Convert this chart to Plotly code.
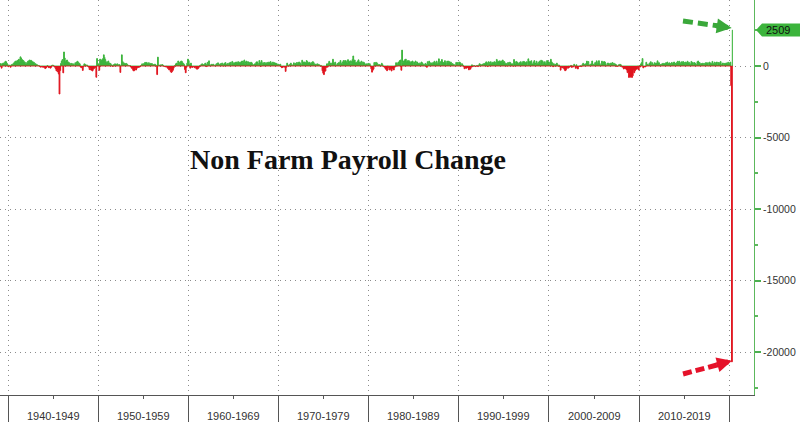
import numpy as np
import plotly.graph_objects as go

# Monthly change in non-farm payrolls (thousands), read/estimated from the chart
nfp_1939 = [30, 150, 170, -150, 140, 210, 160, 240, 330, 300, 190, 120]

nfp_1940s = [
    -50, 40, 60, -90, 80, 110, 130, 190, 250, 310, 350, 330,
    380, 420, 470, 300, 640, 560, 450, 420, 380, 300, 260, 200,
    200, 250, 330, 350, 420, 380, 400, 360, 300, 280, 250, 200,
    150, 120, 90, 60, 30, 20, -40, -80, -60, -30, -90, -70,
    -100, -180, -140, -60, 30, -80, -120, -60, -150, -90, 40, 60,
    40, -30, -90, -200, -350, -300, -420, -560, -1959, -320, 180, 350,
    450, -480, 980, 560, 310, 380, 420, 300, 260, 220, 180, 120,
    180, 120, 160, 100, 60, 230, 150, 280, 330, 260, 200, 150,
    -60, -120, -90, -310, -50, 150, 120, 90, 40, 60, -30, -80,
    -250, -200, -280, -300, -350, -230, -180, -60, -100, -790, 520, 100,
]

nfp_1950s = [
    150, -300, 480, 380, 420, 450, 520, 780, 600, 450, 300, 250,
    280, 350, 220, 120, 180, 80, 60, -30, 90, 120, 150, 60,
    120, 150, 60, 90, 100, -450, 40, 780, 320, 230, 200, 180,
    150, 180, 120, 60, 40, 20, 30, -60, -150, -180, -300, -350,
    -300, -200, -280, -150, -120, -100, -80, -60, 10, 60, 150, 100,
    150, 200, 250, 220, 250, 200, 180, 230, 160, 180, 150, 170,
    120, 100, 90, 130, 80, 40, -600, 620, 60, 30, 80, 40,
    80, 100, 40, -20, -40, -60, -20, -80, -150, -200, -280, -250,
    -400, -450, -380, -300, -150, 10, 50, 150, 200, 120, 350, 100,
    250, 300, 350, 320, 220, 180, 100, -250, -470, -100, 200, 480,
]

nfp_1960s = [
    380, 120, -150, 200, -80, -100, -40, -60, -120, -60, -180, -220,
    -200, -150, -60, 40, 60, 120, 150, 100, 80, 120, 200, 120,
    -40, 250, 180, 360, 80, 40, 110, 120, 90, 120, 40, 30,
    80, 160, 130, 220, 60, 100, 160, 120, 190, 200, -10, 140,
    200, 240, 120, 100, 180, 110, 220, 190, 260, 60, 320, 180,
    220, 210, 240, 280, 250, 270, 300, 240, 260, 260, 290, 350,
    270, 310, 420, 200, 290, 340, 200, 300, 190, 250, 230, 260,
    220, 120, 90, 30, 150, 160, 280, 290, 60, 180, 380, 240,
    -20, 380, 120, 230, 180, 240, 200, 220, 200, 250, 260, 260,
    240, 310, 210, 170, 270, 250, 230, 210, 140, 180, 90, 130,
]

nfp_1970s = [
    90, 80, 120, -60, -120, -100, -30, -80, -50, -380, -90, 200,
    80, -20, 50, 140, 200, 90, 50, 80, 220, 50, 180, 200,
    240, 200, 250, 280, 230, 150, 60, 400, 220, 280, 280, 250,
    230, 380, 310, 220, 230, 260, 150, 200, 240, 300, 280, 160,
    120, 120, 60, 150, 130, 100, 80, 20, 40, -20, -330, -500,
    -600, -380, -350, -100, 150, -80, 200, 330, 120, 200, 120, 220,
    470, 220, 190, 270, 30, 80, 180, 120, 250, 50, 380, 200,
    180, 280, 380, 340, 370, 380, 300, 250, 440, 280, 320, 360,
    180, 330, 450, 700, 380, 420, 220, 250, 260, 340, 430, 280,
    240, 270, 340, 0, 270, 260, 210, 80, 120, 150, 120, 180,
]

nfp_1980s = [
    110, 160, 20, -200, -430, -300, -220, 240, 100, 250, 250, 180,
    90, 100, 100, 70, 40, 190, 100, -30, -60, -100, -210, -250,
    -330, -10, -130, -280, -50, -250, -350, -160, -220, -280, -110, 20,
    230, -10, 170, 280, 280, 380, 420, -300, 1110, 270, 350, 360,
    450, 480, 280, 370, 310, 380, 310, 250, 300, 300, 350, 130,
    270, 120, 350, 200, 280, 140, 190, 200, 200, 200, 280, 210,
    120, 120, 60, 180, 120, -90, 300, 160, 340, 180, 220, 210,
    180, 230, 240, 330, 240, 170, 340, 180, 230, 500, 240, 300,
    100, 450, 280, 250, 220, 370, 240, 130, 340, 270, 340, 290,
    260, 270, 180, 170, 120, 110, 40, 40, 250, 120, 240, 100,
]

nfp_1990s = [
    280, 250, 200, 40, 150, 60, -30, -190, -50, -160, -150, -80,
    -140, -270, -160, -220, -90, 80, -50, 10, 30, -10, -40, 20,
    40, -40, 50, 160, 120, 60, 80, 130, 50, 170, 140, 220,
    290, 230, -40, 300, 260, 180, 300, 150, 230, 270, 250, 300,
    260, 200, 460, 340, 330, 300, 360, 300, 350, 210, 420, 280,
    310, 200, 200, 160, -10, 240, 60, 260, 250, 150, 140, 150,
    -20, 450, 290, 160, 320, 280, 230, 180, 210, 260, 300, 170,
    230, 310, 320, 300, 240, 250, 300, 30, 500, 330, 300, 310,
    370, 150, 140, 280, 380, 210, 120, 330, 200, 180, 260, 340,
    120, 400, 100, 360, 190, 260, 300, 160, 200, 380, 280, 300,
]

nfp_2000s = [
    250, 120, 470, 290, 220, -50, 160, 10, 120, 0, 200, 110,
    -20, 70, -30, -290, -40, -130, -40, -160, -240, -330, -290, -170,
    -130, -150, -20, -90, 0, 40, -100, 0, -60, 120, 10, -160,
    90, -160, -210, -50, -20, -10, 20, -40, 110, 190, 10, 120,
    150, 40, 340, 250, 310, 80, 40, 120, 160, 350, 60, 130,
    130, 240, 140, 360, 170, 250, 370, 190, 70, 80, 340, 160,
    280, 310, 280, 180, 20, 80, 210, 180, 160, 10, 210, 170,
    240, 90, 190, 80, 140, 80, -30, -20, 80, 80, 120, 100,
    10, -80, -70, -210, -180, -170, -210, -270, -460, -480, -800, -700,
    -780, -700, -800, -690, -340, -470, -340, -210, -230, -200, -10, -280,
]

nfp_2010s = [
    20, -70, 150, 240, 520, -130, -70, -30, -60, 260, 130, 70,
    70, 170, 220, 300, 100, 230, 70, 110, 230, 200, 140, 210,
    360, 230, 230, 90, 110, 60, 150, 180, 180, 140, 180, 220,
    210, 280, 140, 190, 220, 170, 130, 250, 170, 210, 280, 50,
    190, 150, 270, 330, 250, 330, 230, 180, 290, 210, 310, 260,
    190, 270, 70, 250, 330, 230, 250, 160, 120, 320, 250, 240,
    130, 240, 190, 140, 40, 300, 350, 140, 250, 120, 170, 160,
    190, 180, 110, 180, 230, 230, 190, 220, 20, 270, 220, 170,
    180, 320, 180, 160, 270, 220, 140, 280, 110, 240, 200, 230,
    310, 60, 150, 210, 60, 180, 160, 200, 210, 190, 260, 180,
]

nfp_2020 = [210, 270, -1373, -20687, 2509]

first_year = 1939
decade_starts = [1940, 1950, 1960, 1970, 1980, 1990, 2000, 2010, 2020]
decade_labels = ["1940-1949", "1950-1959", "1960-1969", "1970-1979",
                 "1980-1989", "1990-1999", "2000-2009", "2010-2019"]
y_tick_vals = [0, -5000, -10000, -15000, -20000]
y_tick_text = ["0", "-5000", "-10000", "-15000", "-20000"]
last_label = "2509"
title_text = "Non Farm Payroll Change"

GREEN = "#3cb43c"
RED = "#e0141e"
TXT = "#333333"
GRID = "#8c8c8c"

values = np.array(nfp_1939 + nfp_1940s + nfp_1950s + nfp_1960s + nfp_1970s +
                  nfp_1980s + nfp_1990s + nfp_2000s + nfp_2010s + nfp_2020, dtype=float)
x = first_year + (np.arange(len(values)) + 0.5) / 12.0
pos = np.where(values > 0, values, 0)
neg = np.where(values < 0, values, 0)

fig = go.Figure()
fig.add_trace(go.Scatter(x=x, y=pos, mode="lines", line=dict(color=GREEN, width=1, shape="hvh"),
                         fill="tozeroy", fillcolor=GREEN, hoverinfo="skip", showlegend=False))
fig.add_trace(go.Scatter(x=x, y=neg, mode="lines", line=dict(color=RED, width=1, shape="hvh"),
                         fill="tozeroy", fillcolor=RED, hoverinfo="skip", showlegend=False))

x_may, y_may = x[-1], values[-1]
x_apr, y_apr = x[-2], values[-2]

shapes = []
annotations = []

# decade labels
for d0, lab in zip(decade_starts[:-1], decade_labels):
    annotations.append(dict(x=d0 + 5, xref="x", y=-0.052, yref="paper", text=lab, showarrow=False,
                            font=dict(family="Liberation Sans", size=11, color=TXT),
                            xanchor="center", yanchor="middle"))

# title
annotations.append(dict(x=0.462, xref="paper", y=0.597, yref="paper", text="<b>%s</b>" % title_text,
                        showarrow=False, font=dict(family="Liberation Serif", size=28, color="#111111"),
                        xanchor="center", yanchor="middle"))

# last value tag
shapes.append(dict(type="path", xref="paper", yref="y", ysizemode="pixel", yanchor=y_may,
                   path="M1.0027,0 L1.0106,6.5 L1.07,6.5 L1.07,-6.5 L1.0106,-6.5 Z",
                   fillcolor=GREEN, line=dict(width=0), layer="above"))
annotations.append(dict(x=1.0135, xref="paper", y=y_may, yref="y", text=last_label, showarrow=False,
                        font=dict(family="Liberation Sans", size=11, color="#111111"),
                        xanchor="left", yanchor="middle"))

# dashed arrows
GA = "#3aa83a"
RA = "#e5122a"
shapes.append(dict(type="line", xref="x", yref="y", xsizemode="pixel", ysizemode="pixel",
                   xanchor=x_may, yanchor=y_may, x0=-49.7, y0=9.1, x1=-15, y1=4.3,
                   line=dict(color=GA, width=5, dash="10px,5px"), layer="above"))
annotations.append(dict(x=x_may, y=y_may, xref="x", yref="y", xshift=-1, yshift=2, text="",
                        showarrow=True, ax=-17, ay=-2.5, arrowhead=2, arrowsize=0.6, arrowwidth=5,
                        arrowcolor=GA, standoff=0))
shapes.append(dict(type="line", xref="x", yref="y", xsizemode="pixel", ysizemode="pixel",
                   xanchor=x_apr, yanchor=y_apr, x0=-48.9, y0=-12.2, x1=-14, y1=-2.9,
                   line=dict(color=RA, width=5, dash="9px,4px"), layer="above"))
annotations.append(dict(x=x_apr, y=y_apr, xref="x", yref="y", xshift=0, yshift=1, text="",
                        showarrow=True, ax=-17, ay=4.6, arrowhead=2, arrowsize=0.6, arrowwidth=5,
                        arrowcolor=RA, standoff=0))

fig.update_layout(
    width=800, height=422,
    margin=dict(l=0, r=46, t=0, b=27),
    paper_bgcolor="white", plot_bgcolor="white",
    shapes=shapes, annotations=annotations,
    showlegend=False,
    xaxis=dict(range=[1939.11, 2022.74], tickmode="array", tickvals=decade_starts,
               ticktext=[""] * len(decade_starts), ticks="outside", ticklen=27, tickcolor="#555555",
               tickwidth=1, showgrid=True, gridcolor=GRID, griddash="1px,4px", gridwidth=1,
               showline=True, linecolor="#555555", linewidth=1, zeroline=False, fixedrange=True,
               minor=dict(tickmode="linear", tick0=1945, dtick=10, ticks="outside", ticklen=3,
                          tickcolor="#555555", showgrid=False)),
    yaxis=dict(range=[-23007, 4615], side="right", tickmode="array", tickvals=y_tick_vals,
               ticktext=y_tick_text, ticks="outside", ticklen=6, tickwidth=2, tickcolor="#4caf50",
               showgrid=True, gridcolor=GRID, griddash="1px,4px", gridwidth=1,
               showline=True, linecolor="#5cb85c", linewidth=1, zeroline=False, fixedrange=True,
               tickfont=dict(family="Liberation Sans", size=10.5, color=TXT),
               minor=dict(tickmode="linear", tick0=0, dtick=2500, ticks="outside", ticklen=3,
                          tickcolor="#5cb85c", showgrid=False)),
)

fig.write_html("out.html", config={"displayModeBar": False, "staticPlot": True},
               post_script="document.body.style.margin='0px';")
